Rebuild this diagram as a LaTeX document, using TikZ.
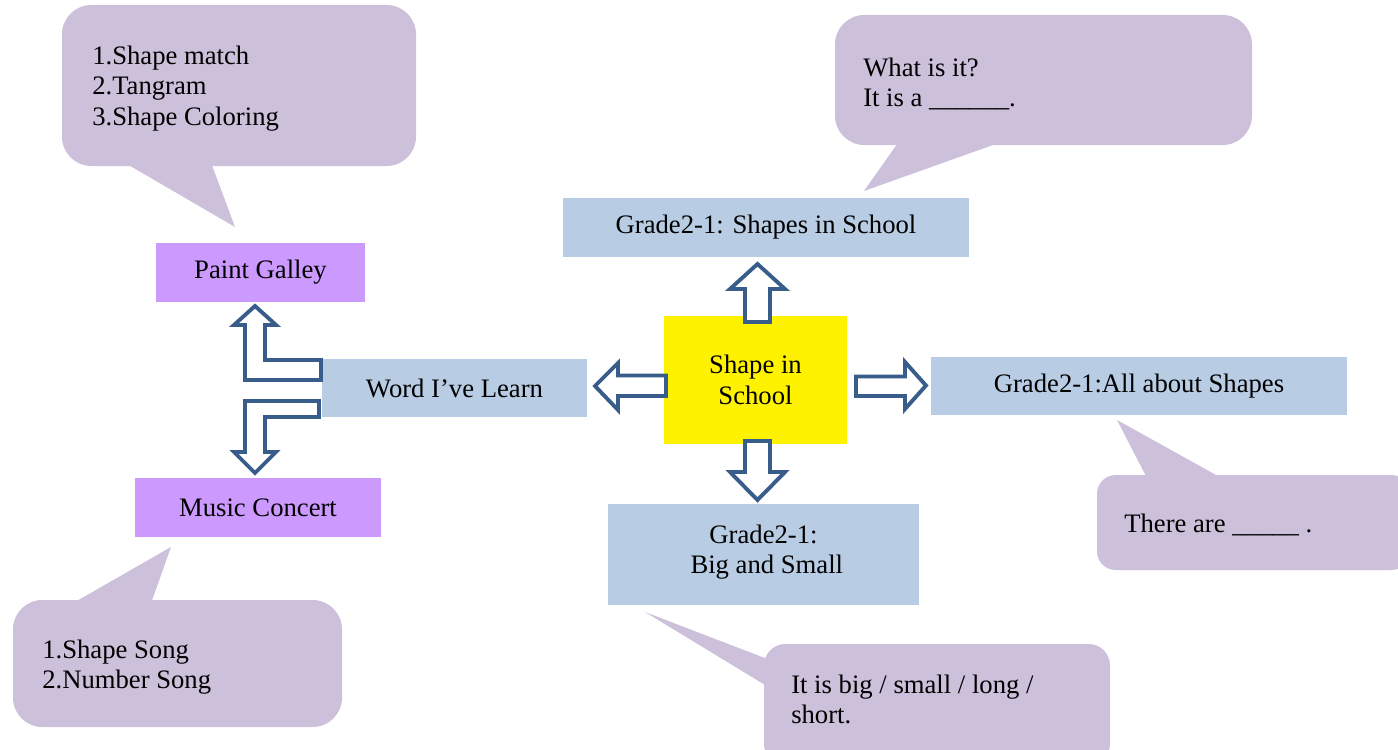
\documentclass[tikz,border=0pt]{standalone}
\usepackage{fontspec}
\setmainfont{Liberation Serif}
\usepackage{xcolor}
\usepackage{tikz}

\definecolor{tipfill}{RGB}{204,192,218}
\definecolor{boxblue}{RGB}{184,204,228}
\definecolor{boxpurple}{RGB}{204,153,255}
\definecolor{arrowline}{RGB}{56,93,138}

\begin{document}
\begin{tikzpicture}[x=0.75pt,y=-0.75pt,
  every node/.style={font=\fontsize{20}{23}\selectfont, inner sep=0pt},
  tip/.style={fill=tipfill},
  tiptext/.style={anchor=west, align=left},
  bluebox/.style={fill=boxblue, align=center},
  purplebox/.style={fill=boxpurple, align=center},
  blockarrow/.style={draw=arrowline, fill=white, line width=2.9pt, line join=miter}]
\useasboundingbox (0,0) rectangle (1398,749);
\clip (0,0) rectangle (1398,749);

% callouts
\fill[tip, rounded corners=22] (62,5) rectangle (416,166);
\fill[tip] (120,160) -- (235,227) -- (210,160) -- cycle;
\node[tiptext] (gametip) at (92,88.5) {1.Shape match\\2.Tangram\\3.Shape Coloring};

\fill[tip, rounded corners=22] (835,15) rectangle (1252,145);
\fill[tip] (900,140) -- (864,191) -- (1007,140) -- cycle;
\node[tiptext] (whattip) at (863,84) {What is it?\\It is a \_\_\_\_\_\_.};

\fill[tip, rounded corners=14] (1097,475) rectangle (1410,570);
\fill[tip] (1148,480) -- (1117,420) -- (1225,480) -- cycle;
\node[tiptext] (countip) at (1124,525) {There are \_\_\_\_\_ .};

\fill[tip, rounded corners=16] (764,644) rectangle (1110,765);
\fill[tip] (770,660) -- (645,612) -- (770,688) -- cycle;
\node[tiptext] (sizetip) at (791,699.5) {It is big / small / long /\\short.};

\fill[tip, rounded corners=22] (13,600) rectangle (342,727);
\fill[tip] (68,606) -- (171,547) -- (150,606) -- cycle;
\node[tiptext] (songtip) at (42,667) {1.Shape Song\\2.Number Song};

% boxes
\node[purplebox, minimum width=156.75pt, minimum height=44.25pt] (gallery) at (260.5,272.5) {Paint Galley};
\node[purplebox, minimum width=184.5pt, minimum height=44.25pt] (music) at (258,507.5) {Music Concert};
\node[bluebox, minimum width=198.75pt, minimum height=43.5pt] (word) at (454.5,388) {Word I’ve Learn};
\node[fill=yellow, align=center, minimum width=137.25pt, minimum height=96pt] (center) at (755.5,380) {Shape in\\School};
\node[bluebox, minimum width=304.5pt, minimum height=44.25pt] (school) at (766,227.5) {Grade2-1: Shapes in School};
\node[bluebox, minimum width=312pt, minimum height=43.5pt] (about) at (1139,386) {Grade2-1:All about Shapes};
\node[bluebox, minimum width=233.25pt, minimum height=75.75pt, text depth=8pt] (bigsmall) at (763.5,554.5) {Grade2-1:\\ \ Big and Small};

% block arrows
\draw[blockarrow] (757.5,264) -- (785,289) -- (770,289) -- (770,322) -- (745,322) -- (745,289) -- (730,289) -- cycle;
\draw[blockarrow] (745,441) -- (770,441) -- (770,472) -- (785,472) -- (757.5,500) -- (730,472) -- (745,472) -- cycle;
\draw[blockarrow] (595,386) -- (618,363) -- (618,375.5) -- (666,375.5) -- (666,396) -- (618,396) -- (618,410) -- cycle;
\draw[blockarrow] (856,376.5) -- (905,376.5) -- (905,362) -- (926,385.5) -- (905,409) -- (905,396) -- (856,396) -- cycle;

\draw[blockarrow] (255,306) -- (276,325) -- (265,325) -- (265,360) -- (321,360) -- (321,380) -- (245,380) -- (245,325) -- (234,325) -- cycle;
\draw[blockarrow] (245,401) -- (319,401) -- (319,417) -- (265,417) -- (265,452) -- (276,452) -- (255,473) -- (234,452) -- (245,452) -- cycle;

\end{tikzpicture}
\end{document}
